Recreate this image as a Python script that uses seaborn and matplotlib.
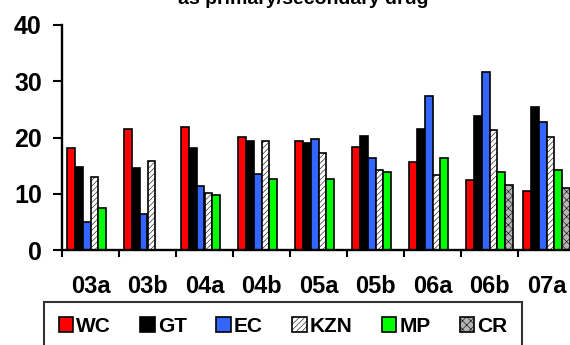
import numpy as np
import pandas as pd
import matplotlib
matplotlib.use("Agg")
import matplotlib.pyplot as plt
from matplotlib.patches import Patch
import seaborn as sns

periods = ["03a", "03b", "04a", "04b", "05a", "05b", "06a", "06b", "07a"]
regions = ["WC", "GT", "EC", "KZN", "MP", "CR"]
wc = [18.1, 21.6, 21.9, 20.1, 19.3, 18.4, 15.7, 12.4, 10.5]
gt = [14.8, 14.6, 18.1, 19.4, 19.1, 20.3, 21.6, 23.8, 25.5]
ec = [5.0, 6.4, 11.3, 13.5, 19.7, 16.4, 27.4, 31.7, 22.7]
kzn = [13.0, 15.9, 10.1, 19.4, 17.2, 14.2, 13.3, 21.3, 20.1]
mp = [7.4, np.nan, 9.7, 12.7, 12.6, 13.9, 16.3, 13.9, 14.3]
cr = [np.nan, np.nan, np.nan, np.nan, np.nan, np.nan, np.nan, 11.6, 11.0]
yticks = [0, 10, 20, 30, 40]
title_line = "as primary/secondary drug"

series = {"WC": wc, "GT": gt, "EC": ec, "KZN": kzn, "MP": mp, "CR": cr}
rows = []
for r in regions:
    for p, v in zip(periods, series[r]):
        rows.append({"period": p, "region": r, "value": v})
df = pd.DataFrame(rows)

face = {"WC": "#ff0000", "GT": "#000000", "EC": "#3366ff",
        "KZN": "#ffffff", "MP": "#00ff00", "CR": "#b4b4b4"}
hatch = {"WC": None, "GT": None, "EC": None, "KZN": "//////", "MP": None, "CR": "xxxx"}

sns.set_style("white")
plt.rcParams["font.family"] = ["Liberation Sans", "DejaVu Sans"]
plt.rcParams["font.weight"] = "bold"
plt.rcParams["text.color"] = "black"
plt.rcParams["xtick.color"] = "black"
plt.rcParams["ytick.color"] = "black"
plt.rcParams["hatch.linewidth"] = 0.4

fig = plt.figure(figsize=(5.7, 3.45), dpi=100)
ax = fig.add_axes([62 / 570, 1 - 250 / 345, 513 / 570, 225 / 345])

sns.barplot(data=df, x="period", y="value", hue="region", order=periods,
            hue_order=regions, palette=face, saturation=1, width=0.82, gap=0,
            edgecolor="black", linewidth=1.2, errorbar=None, legend=False, ax=ax)

for cont, r in zip(ax.containers, regions):
    for bar in cont:
        if hatch[r]:
            bar.set_hatch(hatch[r])

ax.set_xlim(-0.5, len(periods) - 0.5)
ax.set_ylim(0, 40)
ax.set_yticks(yticks)
ax.set_xlabel("")
ax.set_ylabel("")
for s in ["top", "right"]:
    ax.spines[s].set_visible(False)
for s in ["left", "bottom"]:
    ax.spines[s].set_linewidth(1.7)
    ax.spines[s].set_color("black")

ax.tick_params(axis="y", direction="out", length=6.5, width=1.5, pad=8,
               labelsize=18, left=True, labelcolor="black")
ax.set_xticks(np.arange(len(periods) + 1) - 0.5, minor=True)
ax.tick_params(axis="x", which="minor", direction="out", length=5, width=1.5,
               bottom=True)
ax.tick_params(axis="x", which="major", length=0, pad=18, labelsize=17,
               labelcolor="black")
for lab in ax.get_xticklabels() + ax.get_yticklabels():
    lab.set_fontweight("bold")

handles = [Patch(facecolor=face[r], edgecolor="black", linewidth=1.2,
                 hatch=hatch[r], label=r) for r in regions]
leg = fig.legend(handles=handles, loc="upper left", ncol=6,
                 bbox_to_anchor=(44 / 570, 1 - 302 / 345), frameon=True,
                 fancybox=False, prop={"size": 15, "weight": "bold"},
                 handlelength=0.7, handleheight=0.7, handletextpad=0.15,
                 columnspacing=1.4, borderpad=0.7, borderaxespad=0)
leg.get_frame().set_edgecolor("black")
leg.get_frame().set_linewidth(1.5)
for t in leg.get_texts():
    t.set_color("black")

fig.text(303 / 570, 1 - 4 / 345, title_line, ha="center", va="baseline",
         fontsize=14, fontweight="bold", color="black")

fig.savefig("out.png", dpi=100)
